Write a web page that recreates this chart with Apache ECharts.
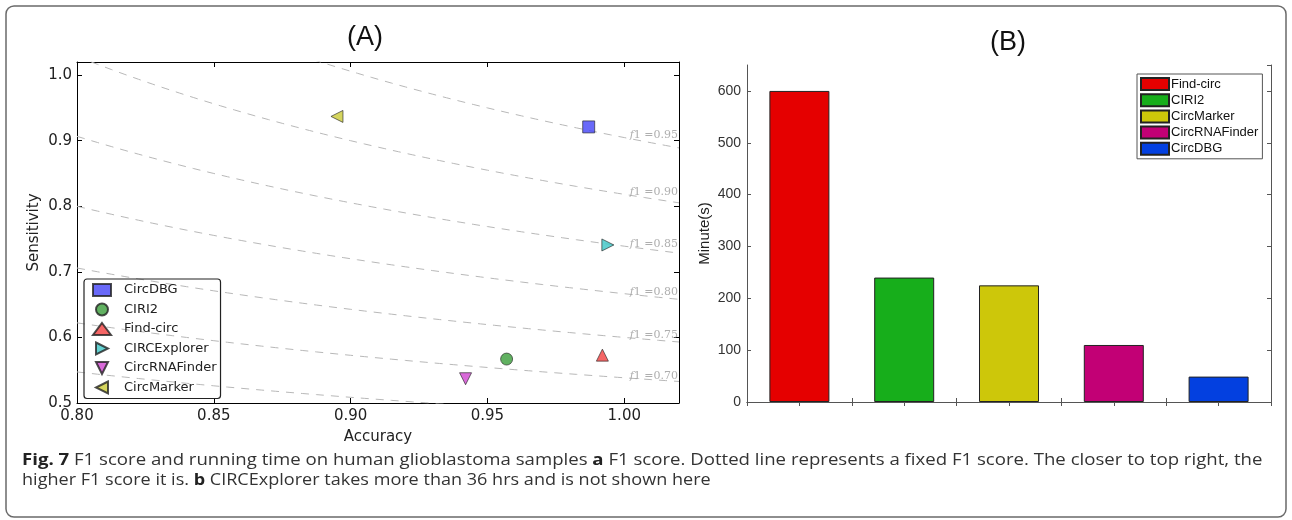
<!DOCTYPE html>
<html>
<head>
<meta charset="utf-8">
<script src="https://cdn.jsdelivr.net/npm/echarts@6/dist/echarts.min.js"></script>
<style>
  html, body { margin: 0; padding: 0; background: #fff; }
  #chart { width: 1292px; height: 520px; }
</style>
</head>
<body>
<div id="chart"></div>
<script>
// (A) accuracy vs sensitivity per tool
const toolsA = ['CircDBG', 'CIRI2', 'Find-circ', 'CIRCExplorer', 'CircRNAFinder', 'CircMarker'];
const accuracy = [0.987, 0.957, 0.992, 0.994, 0.942, 0.895];
const sensitivity = [0.921, 0.567, 0.573, 0.741, 0.537, 0.937];

// fixed F1 levels shown as dashed iso-lines (only some get a label)
const f1Levels = [0.65, 0.70, 0.75, 0.80, 0.85, 0.90, 0.95];
const f1Labelled = [0.70, 0.75, 0.80, 0.85, 0.90, 0.95];

// (B) running time in minutes
const toolsB = ['Find-circ', 'CIRI2', 'CircMarker', 'CircRNAFinder', 'CircDBG'];
const minutes = [600, 240, 225, 110, 49];

const markerA = {
  'CircDBG':       { symbol: 'rect', color: '#4343f7' },
  'CIRI2':         { symbol: 'circle', color: '#3a9d3a' },
  'Find-circ':     { symbol: 'triangle', color: '#f23e3e' },
  'CIRCExplorer':  { symbol: 'path://M0,0L10,5L0,10Z', color: '#3cc6c6' },
  'CircRNAFinder': { symbol: 'path://M0,0L10,0L5,10Z', color: '#cf45cf' },
  'CircMarker':    { symbol: 'path://M10,0L0,5L10,10Z', color: '#cbcb36' }
};
const colorB = {
  'Find-circ': '#e50000',
  'CIRI2': '#17ae1b',
  'CircMarker': '#cdc70a',
  'CircRNAFinder': '#c20075',
  'CircDBG': '#0340e0'
};

// accuracy samples for the iso-F1 curves
const accGrid = [];
for (let a = 0.80; a <= 1.0201; a += 0.0025) accGrid.push(+a.toFixed(4));
const f1Sens = (f, a) => f * a / (2 * a - f);

const fontA = "'DejaVu Sans', sans-serif";
const fontB = "'Liberation Sans', Arial, sans-serif";
const fontC = "'Open Sans', sans-serif";

const chart = echarts.init(document.getElementById('chart'));

const isoSeries = f1Levels.map(f => ({
  type: 'line',
  xAxisIndex: 0,
  yAxisIndex: 0,
  silent: true,
  showSymbol: false,
  z: 1,
  lineStyle: { color: '#b8b8b8', width: 1, type: [8, 7] },
  data: accGrid.map(a => [a, f1Sens(f, a)])
}));

const isoLabels = {
  type: 'scatter',
  xAxisIndex: 0,
  yAxisIndex: 0,
  silent: true,
  symbolSize: 0,
  z: 2,
  label: {
    show: true,
    position: 'right',
    distance: 0,
    formatter: p => '{i|f}1 =' + p.value[2],
    color: '#9a9a9a',
    fontFamily: "'DejaVu Serif', serif",
    fontSize: 11,
    rich: { i: { fontStyle: 'italic', fontFamily: "'DejaVu Serif', serif", fontSize: 11, color: '#9a9a9a' } }
  },
  data: f1Labelled.map(f => [1.002, f1Sens(f, 1.0) + 0.003, f.toFixed(2)])
};

const scatterSeries = toolsA.map((name, i) => ({
  name: name,
  type: 'scatter',
  xAxisIndex: 0,
  yAxisIndex: 0,
  symbol: markerA[name].symbol,
  symbolSize: 12,
  z: 5,
  itemStyle: { color: markerA[name].color, borderColor: '#222', borderWidth: 0.8 },
  data: [[accuracy[i], sensitivity[i]]]
}));

const barSeries = toolsB.map((name, i) => ({
  name: 'B:' + name,
  type: 'bar',
  xAxisIndex: 2,
  yAxisIndex: 2,
  barWidth: 60,
  barGap: '-100%',
  itemStyle: { color: colorB[name], borderColor: '#222', borderWidth: 1 },
  data: [[i + 1, minutes[i]]]
}));

const frameA = { lineStyle: { color: '#000', width: 1 } };
const frameB = { lineStyle: { color: '#555', width: 1 } };

const option = {
  animation: false,
  backgroundColor: '#fff',
  grid: [
    { left: 77, right: 613, top: 62, bottom: 117 },
    { left: 747, right: 21, top: 65, bottom: 118 }
  ],
  xAxis: [
    {
      gridIndex: 0, type: 'value', min: 0.8, max: 1.02, interval: 0.05,
      axisLine: frameA, splitLine: { show: false },
      axisTick: { inside: true, length: 5, lineStyle: { color: '#000' } },
      axisLabel: { formatter: v => v.toFixed(2), showMaxLabel: false, fontFamily: fontA, fontSize: 15, color: '#222', margin: 6 },
      name: 'Accuracy', nameLocation: 'middle', nameGap: 27,
      nameTextStyle: { fontFamily: fontA, fontSize: 15, color: '#222' }
    },
    {
      gridIndex: 0, type: 'value', position: 'top', min: 0.8, max: 1.02, interval: 0.05,
      axisLine: frameA, splitLine: { show: false },
      axisTick: { inside: true, length: 5, lineStyle: { color: '#000' } },
      axisLabel: { show: false }
    },
    {
      gridIndex: 1, type: 'value', min: 0.5, max: 5.5, interval: 0.5,
      axisLine: frameB, splitLine: { show: false },
      axisTick: { inside: true, length: 4, lineStyle: { color: '#555' } },
      axisLabel: { show: false }
    },
    {
      gridIndex: 1, type: 'value', position: 'top', min: 0.5, max: 5.5, interval: 0.5,
      axisLine: frameB, splitLine: { show: false },
      axisTick: { inside: true, length: 4, lineStyle: { color: '#555' } },
      axisLabel: { show: false }
    }
  ],
  yAxis: [
    {
      gridIndex: 0, type: 'value', min: 0.5, max: 1.02, interval: 0.1,
      axisLine: frameA, splitLine: { show: false },
      axisTick: { inside: true, length: 5, lineStyle: { color: '#000' } },
      axisLabel: { formatter: v => v.toFixed(1), showMaxLabel: false, fontFamily: fontA, fontSize: 15, color: '#222', margin: 5 },
      name: 'Sensitivity', nameLocation: 'middle', nameGap: 35,
      nameTextStyle: { fontFamily: fontA, fontSize: 15, color: '#222' }
    },
    {
      gridIndex: 0, type: 'value', position: 'right', min: 0.5, max: 1.02, interval: 0.1,
      axisLine: frameA, splitLine: { show: false },
      axisTick: { inside: true, length: 5, lineStyle: { color: '#000' } },
      axisLabel: { show: false }
    },
    {
      gridIndex: 1, type: 'value', min: 0, max: 650, interval: 100,
      axisLine: frameB, splitLine: { show: false },
      axisTick: { inside: true, length: 4, lineStyle: { color: '#555' } },
      axisLabel: { showMaxLabel: false, fontFamily: fontB, fontSize: 14, color: '#333', margin: 6 },
      name: 'Minute(s)', nameLocation: 'middle', nameGap: 35,
      nameTextStyle: { fontFamily: fontB, fontSize: 15, color: '#222' }
    },
    {
      gridIndex: 1, type: 'value', position: 'right', min: 0, max: 650, interval: 100,
      axisLine: frameB, splitLine: { show: false },
      axisTick: { inside: true, length: 4, lineStyle: { color: '#555' } },
      axisLabel: { show: false }
    }
  ],
  legend: [
    {
      data: toolsA,
      orient: 'vertical',
      left: 84, top: 279,
      padding: [4, 4, 4, 8],
      itemWidth: 18, itemHeight: 12, itemGap: 5.5,
      borderColor: '#222', borderWidth: 1.2, borderRadius: 3,
      selectedMode: false,
      textStyle: { fontFamily: fontA, fontSize: 13, color: '#222', lineHeight: 14, padding: [0, 0, 0, 8] }
    },
    {
      data: toolsB.map(n => 'B:' + n),
      formatter: n => n.slice(2),
      orient: 'vertical',
      left: 1137, top: 74,
      padding: [3, 4, 3, 3],
      icon: 'rect',
      itemWidth: 28, itemHeight: 12, itemGap: 2.2,
      borderColor: '#555', borderWidth: 1,
      selectedMode: false,
      textStyle: { fontFamily: fontB, fontSize: 13, color: '#111', lineHeight: 13, padding: [0, 0, 0, -3] }
    }
  ],
  graphic: [
    {
      type: 'rect', silent: true, z: -1,
      shape: { x: 6, y: 6, width: 1280, height: 511, r: 8 },
      style: { fill: 'none', stroke: '#6a6a6a', lineWidth: 1.5 }
    },
    {
      type: 'text', x: 365, y: 38,
      style: { text: '(A)', fontFamily: fontB, fontSize: 27, fill: '#111', textAlign: 'center', textVerticalAlign: 'middle' }
    },
    {
      type: 'text', x: 1008, y: 43,
      style: { text: '(B)', fontFamily: fontB, fontSize: 27, fill: '#111', textAlign: 'center', textVerticalAlign: 'middle' }
    },
    {
      type: 'text', x: 22, y: 461, scaleX: 1.2,
      style: {
        text: '{b|Fig. 7} F1 score and running time on human glioblastoma samples {b|a} F1 score. Dotted line represents a fixed F1 score. The closer to top right, the',
        fontFamily: fontC, fontSize: 15.5, fill: '#333', textVerticalAlign: 'middle',
        rich: { b: { fontWeight: 'bold', fontFamily: fontC, fontSize: 15.5, fill: '#222' } }
      }
    },
    {
      type: 'text', x: 22, y: 481, scaleX: 1.165,
      style: {
        text: 'higher F1 score it is. {b|b} CIRCExplorer takes more than 36 hrs and is not shown here',
        fontFamily: fontC, fontSize: 15.5, fill: '#333', textVerticalAlign: 'middle',
        rich: { b: { fontWeight: 'bold', fontFamily: fontC, fontSize: 15.5, fill: '#222' } }
      }
    }
  ],
  series: [...isoSeries, isoLabels, ...scatterSeries, ...barSeries]
};

chart.setOption(option);
</script>
</body>
</html>
